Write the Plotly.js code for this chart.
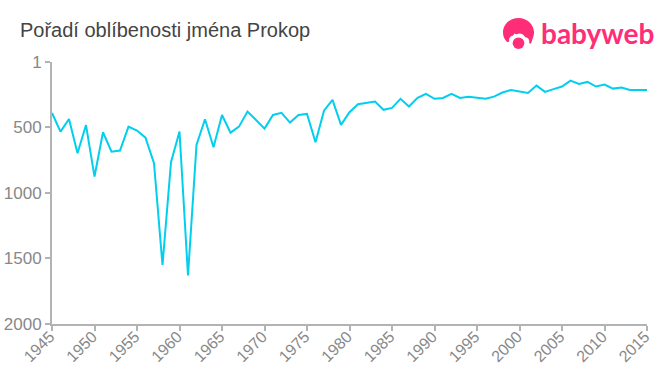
<!DOCTYPE html>
<html>
<head>
<meta charset="utf-8">
<script src="https://cdn.plot.ly/plotly-3.0.1.min.js"></script>
<style>html,body{margin:0;padding:0;background:#fff}#c{width:660px;height:375px}</style>
</head>
<body>
<div id="c"></div>
<script>
const years = [1945,1946,1947,1948,1949,1950,1951,1952,1953,1954,1955,1956,1957,1958,1959,1960,1961,1962,1963,1964,1965,1966,1967,1968,1969,1970,1971,1972,1973,1974,1975,1976,1977,1978,1979,1980,1981,1982,1983,1984,1985,1986,1987,1988,1989,1990,1991,1992,1993,1994,1995,1996,1997,1998,1999,2000,2001,2002,2003,2004,2005,2006,2007,2008,2009,2010,2011,2012,2013,2014,2015];
const ranks = [390,532,436,697,482,875,537,685,677,494,524,578,773,1550,766,532,1630,634,438,651,405,540,494,379,443,509,405,389,463,405,397,613,372,290,481,384,323,311,303,366,351,282,341,275,244,282,275,244,275,267,275,282,265,234,214,227,237,181,229,208,188,143,168,153,188,173,204,196,214,214,214];
const yTicks = [1,500,1000,1500,2000];
const xTicks = [1945,1950,1955,1960,1965,1970,1975,1980,1985,1990,1995,2000,2005,2010,2015];
const chartTitle = "Pořadí oblíbenosti jména Prokop";
const brand = "babyweb";

const logoSvg = '<svg xmlns="http://www.w3.org/2000/svg" width="34" height="34" viewBox="0 0 34 34">' +
 '<path fill="#ff2d78" d="M17 1C8 1 1 8 1 16c0 4 1.600 7 4 9.500 1 1 2.600.2 2.400-1.200-.3-2 .8-4 2.600-4.600 1.500-.5 2.400-1.600 3-3 .6 1 1.200 1.300 2 1 2.300-.8 4.200-.8 6 0 .8.3 1.600 1 2 1.800.5 1 1.800 1.500 2.800 2 1.800.8 2.600 2.700 2.200 4.500-.3 1.300 1.200 2 2 1C31.800 22 33 19 33 16 33 8 26 1 17 1z"/>' +
 '<circle cx="17" cy="27" r="6" fill="#ff2d78"/></svg>';

const layout = {
  width: 660, height: 375,
  margin: {l: 52, r: 13, t: 62, b: 51},
  paper_bgcolor: "#fff", plot_bgcolor: "#fff",
  showlegend: false,
  title: {text: chartTitle, x: 20/660, xanchor: "left", y: 1-30/375, yanchor: "middle",
          font: {family: "Liberation Sans, Arial, sans-serif", size: 20, color: "#444"}},
  xaxis: {range: [1945, 2015], tickmode: "array", tickvals: xTicks, ticktext: xTicks.map(String),
          tickangle: -45, ticks: "outside", ticklen: 5, tickwidth: 2, tickcolor: "#b3b3b3",
          ticklabelstandoff: -10, ticklabelshift: -2,
          showline: true, linecolor: "#b3b3b3", linewidth: 2, showgrid: false, zeroline: false,
          tickfont: {family: "Liberation Sans, Arial, sans-serif", size: 16, color: "#888"}},
  yaxis: {range: [2000, 1], tickmode: "array", tickvals: yTicks, ticktext: yTicks.map(String),
          ticks: "outside", ticklen: 5, tickwidth: 2, tickcolor: "#b3b3b3",
          showline: true, linecolor: "#b3b3b3", linewidth: 2, showgrid: false, zeroline: false,
          tickfont: {family: "Liberation Sans, Arial, sans-serif", size: 17, color: "#888"}},
  images: [{source: "data:image/svg+xml;charset=utf-8," + encodeURIComponent(logoSvg),
            xref: "paper", yref: "paper", x: (502-52)/595, y: 1+(62-17)/262, sizex: 33/595, sizey: 33/262,
            xanchor: "left", yanchor: "top", sizing: "contain", layer: "above"}],
  annotations: [{text: "<b>" + brand + "</b>", xref: "paper", yref: "paper", x: (539-52)/595, y: 1+(62-33)/262,
                 xanchor: "left", yanchor: "middle", showarrow: false,
                 font: {family: "Lato, sans-serif", size: 28, color: "#ff2d78"}}]
};
Plotly.newPlot("c", [{x: years, y: ranks, type: "scatter", mode: "lines",
  line: {color: "#00cfee", width: 2}, hoverinfo: "x+y"}], layout, {staticPlot: true, displayModeBar: false});
</script>
</body>
</html>
